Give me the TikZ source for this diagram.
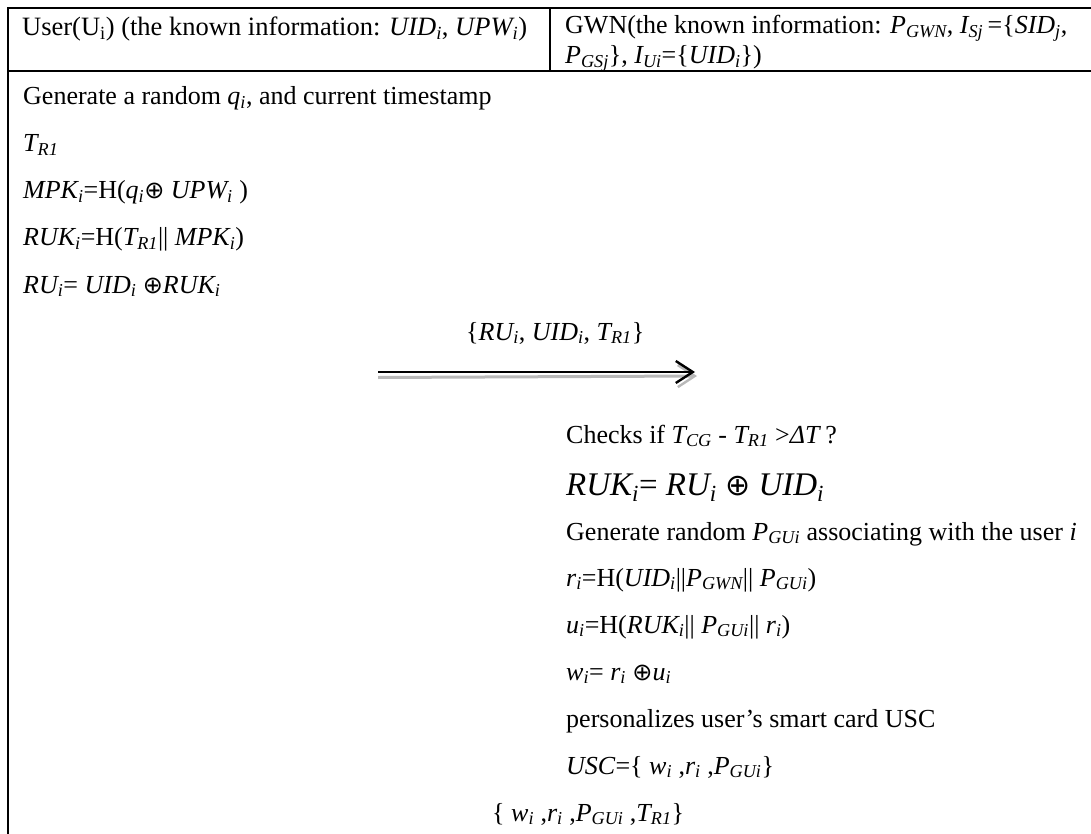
\documentclass[tikz,border=0pt]{standalone}
\usepackage{fontspec}
\setmainfont{Liberation Serif}
\newfontfamily\symfam{DejaVu Sans}
\usetikzlibrary{arrows.meta}
\newcommand\sbi[1]{\textsubscript{\itshape #1}}
\newcommand\xor{{\symfam\fontsize{24}{26}\selectfont ⊕}}
\tikzset{
  txt/.style={anchor=base west, inner sep=0pt, font=\fontsize{26}{30}\selectfont},
  hdrtxt/.style={anchor=base west, inner sep=0pt, font=\fontsize{26.5}{30}\selectfont},
  bigtxt/.style={anchor=base west, inner sep=0pt, font=\fontsize{33}{38}\selectfont},
  rule/.style={line width=2pt, black},
  msg/.style={line width=2pt, black, -{Straight Barb[length=17pt,width=22pt,line width=2.4pt]}},
  msgshadow/.style={line width=3pt, gray!55, -{Straight Barb[length=17pt,width=22pt,line width=2.4pt]}}
}
\begin{document}
\begin{tikzpicture}[x=1pt,y=-1pt]
\useasboundingbox (0,0) rectangle (1091,834);
% table rules
\coordinate (tl) at (7.5,8);
\coordinate (tr) at (1091,8);
\coordinate (ml) at (7.5,71);
\coordinate (mr) at (1091,71);
\coordinate (bl) at (7.5,834);
\coordinate (dt) at (550,8);
\coordinate (db) at (550,71);
\draw[rule] (tr) -- (tl) -- (bl);
\draw[rule] (ml) -- (mr);
\draw[rule] (dt) -- (db);
% header
\node[hdrtxt] (hu) at (22,36) {User(U\textsubscript{i}) (the known information: \textit{UID\sbi{i}}, \textit{UPW\sbi{i}})};
\node[txt] (hg1) at (565,34) {GWN(the known information: \textit{P\sbi{GWN}}, \textit{I\sbi{Sj}}\,=\{\textit{SID\sbi{j}},};
\node[txt] (hg2) at (565,64) {\textit{P\sbi{GSj}}\}, \textit{I\sbi{Ui}}=\{\textit{UID\sbi{i}}\})};
% user side
\node[txt] (u1) at (23,105) {Generate a random \textit{q\sbi{i}}, and current timestamp};
\node[txt] (u2) at (23,152) {\textit{T\sbi{R1}}};
\node[txt] (u3) at (23,199) {\textit{MPK\sbi{i}}=H(\textit{q\sbi{i}}\xor\ \textit{UPW\sbi{i}} )};
\node[txt] (u4) at (23,246) {\textit{RUK\sbi{i}}=H(\textit{T\sbi{R1}}|| \textit{MPK\sbi{i}})};
\node[txt] (u5) at (23,293) {\textit{RU\sbi{i}}= \textit{UID\sbi{i}} \xor\textit{RUK\sbi{i}}};
% message 1
\node[txt] (m1) at (466,340) {\{\textit{RU\sbi{i}}, \textit{UID\sbi{i}}, \textit{T\sbi{R1}}\}};
\coordinate (m1s) at (378,372);
\coordinate (m1e) at (695,372);
\coordinate (m1ss) at (378,377.5);
\coordinate (m1se) at (697,376);
\draw[msgshadow] (m1ss) -- (m1se);
\draw[msg] (m1s) -- (m1e);
% gateway side
\node[txt] (g1) at (566,443) {Checks if \textit{T\sbi{CG}} - \textit{T\sbi{R1}} >\textit{ΔT}\,?};
\node[bigtxt] (g2) at (566,495) {\textit{RUK\sbi{i}}= \textit{RU\sbi{i}} {\symfam\fontsize{30}{32}\selectfont ⊕} \textit{UID\sbi{i}}};
\node[txt] (g3) at (566,540) {Generate random \textit{P\sbi{GUi}} associating with the user \textit{i}};
\node[txt] (g4) at (566,586) {\textit{r\sbi{i}}=H(\textit{UID\sbi{i}}||\textit{P\sbi{GWN}}|| \textit{P\sbi{GUi}})};
\node[txt] (g5) at (566,633) {\textit{u\sbi{i}}=H(\textit{RUK\sbi{i}}|| \textit{P\sbi{GUi}}|| \textit{r\sbi{i}})};
\node[txt] (g6) at (566,680) {\textit{w\sbi{i}}= \textit{r\sbi{i}} \xor\textit{u\sbi{i}}};
\node[txt] (g7) at (566,727) {personalizes user’s smart card USC};
\node[txt] (g8) at (566,774) {\textit{USC}=\{ \textit{w\sbi{i}} ,\textit{r\sbi{i}} ,\textit{P\sbi{GUi}}\}};
\node[txt] (m2) at (492,821) {\{ \textit{w\sbi{i}} ,\textit{r\sbi{i}} ,\textit{P\sbi{GUi}} ,\textit{T\sbi{R1}}\}};
\end{tikzpicture}
\end{document}
